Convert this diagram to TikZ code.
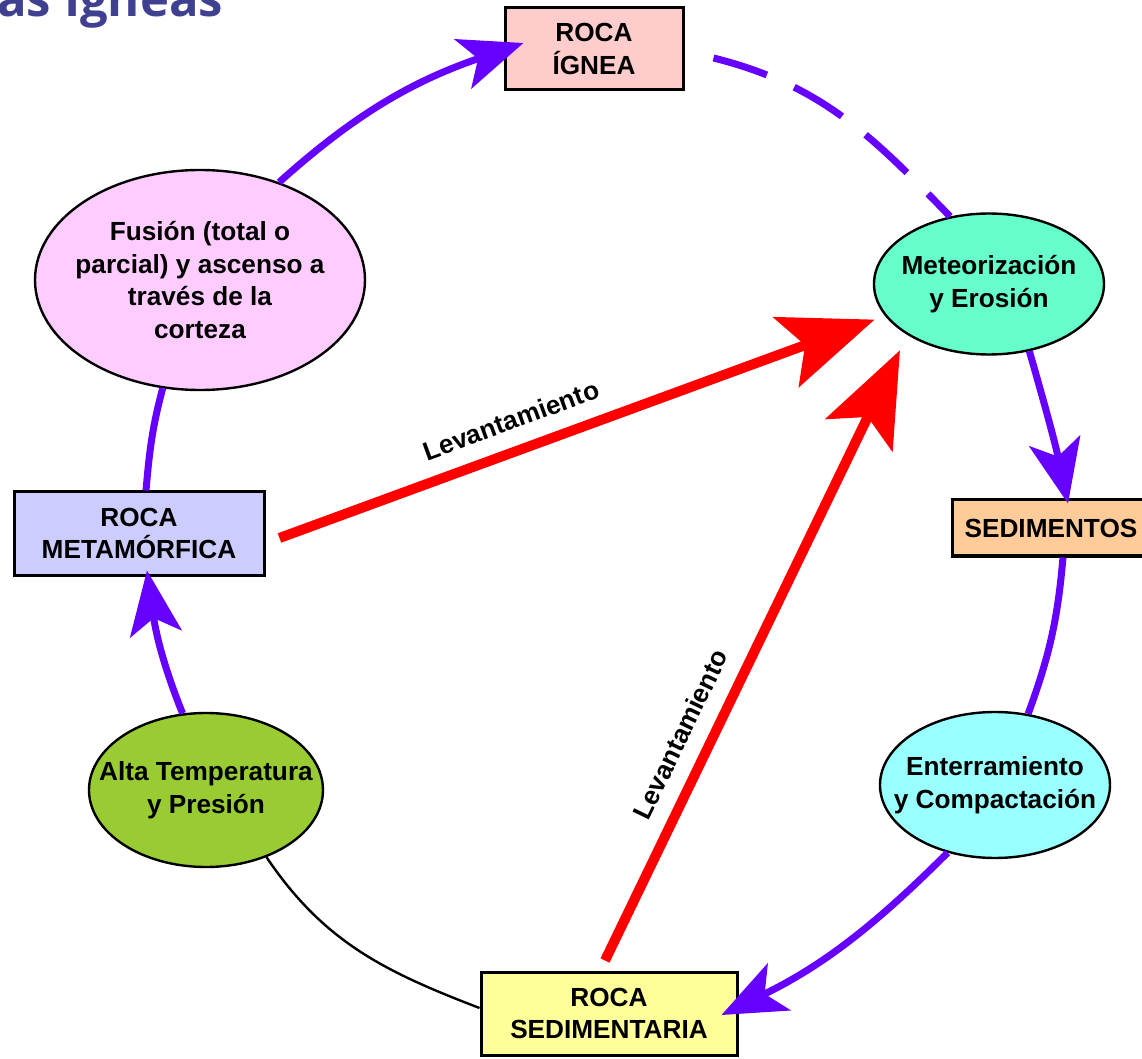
\documentclass[tikz,border=0pt]{standalone}
\usepackage{fontspec}
\setmainfont{Liberation Sans}
\newfontfamily\diagfont{Liberation Sans Bold}
\newfontfamily\titlefont{Open Sans}
\usetikzlibrary{arrows.meta,shapes.geometric,calc}
\definecolor{purp}{RGB}{102,0,255}
\definecolor{redx}{RGB}{255,0,0}
\definecolor{titc}{RGB}{64,64,144}
\definecolor{ignc}{HTML}{FFCCCC}
\definecolor{metc}{HTML}{66FFCC}
\definecolor{sedc}{HTML}{FFCC99}
\definecolor{entc}{HTML}{99FFFF}
\definecolor{sdrc}{HTML}{FFFF99}
\definecolor{altc}{HTML}{99CC33}
\definecolor{metac}{HTML}{CCCCFF}
\definecolor{fusc}{HTML}{FFCCFF}
\begin{document}
\begin{tikzpicture}[x=0.5pt,y=0.5pt,
  txt/.style={font=\diagfont\fontsize{13.1}{16.4}\selectfont, align=center, text=black},
  boxn/.style={txt, draw=black, line width=1.5pt, rectangle, inner sep=0pt},
  elln/.style={txt, draw=black, line width=1.2pt, ellipse, inner xsep=-15pt, inner ysep=-5pt},
  purpl/.style={draw=purp, line width=3.5pt},
  parrow/.style={purpl, -{Stealth[length=32pt,width=26pt,inset=8pt]}},
  rarrow/.style={draw=redx, line width=5pt, -{Stealth[length=47pt,width=37pt,inset=10pt]}},
  lab/.style={txt, sloped, above=6pt, inner sep=2pt}
]
\useasboundingbox (0,0) rectangle (1142,-1059);

\node[anchor=base west, inner sep=0pt, font=\titlefont\bfseries\fontsize{24.5}{28}\selectfont, text=titc] (ttl) at (-3,-17) {as Ígneas};

\node[boxn, fill=ignc, minimum width=89pt, minimum height=41pt] (ign) at (594,-49) {ROCA\\ÍGNEA};
\node[elln, fill=metc, minimum width=115pt, minimum height=70.5pt] (meteo) at (989,-284) {Meteorización\\y Erosión};
\node[boxn, fill=sedc, minimum width=99pt, minimum height=28pt] (sed) at (1051,-528) {SEDIMENTOS};
\node[elln, fill=entc, minimum width=115pt, minimum height=73pt] (ent) at (995,-785) {Enterramiento\\y Compactación};
\node[boxn, fill=sdrc, minimum width=128pt, minimum height=41.5pt] (sedr) at (609,-1013.5) {ROCA\\SEDIMENTARIA};
\node[elln, fill=altc, minimum width=117pt, minimum height=77pt] (alta) at (206,-790) {Alta Temperatura\\y Presión};
\node[boxn, fill=metac, minimum width=125pt, minimum height=41.5pt] (meta) at (139,-533.5) {ROCA\\METAMÓRFICA};
\node[elln, fill=fusc, minimum width=165pt, minimum height=110pt] (fus) at (200,-280) {Fusión (total o\\parcial) y ascenso a\\través de la\\corteza};

\draw[parrow] (fus.51) to[out=42,in=199] ($(ign.west)+(20,6)$);
\draw[purpl, dash pattern=on 28pt off 15pt] ($(ign.east)+(29,-9)$) to[out=-14,in=134] (meteo.120);
\draw[parrow] (meteo.-59) to[out=-74,in=102] ($(sed.north)+(17,-5)$);
\draw[purpl] ($(sed.south)+(12,0)$) to[out=-95,in=70] (ent.65);
\draw[parrow] (ent.235) to[out=225,in=26] ($(sedr.east)+(-17,-1.5)$);
\draw[line width=1.2pt] ($(sedr.west)+(0,5.5)$) to[out=159,in=-56] (alta.-48);
\draw[parrow] (alta.107) to[out=112,in=-82] ($(meta.south)+(8,6)$);
\draw[purpl] ($(meta.north)+(7,0)$) to[out=85,in=255] (fus.251);

\draw[rarrow, shorten >=5.5pt] ($(meta.east)+(14,-4.5)$) -- node[lab, pos=0.4] (lev1) {Levantamiento} (meteo.197);
\draw[rarrow, shorten >=8.5pt] ($(sedr.north)+(-4,10)$) -- node[lab, pos=0.34] (lev2) {Levantamiento} (meteo.212);
\end{tikzpicture}
\end{document}
